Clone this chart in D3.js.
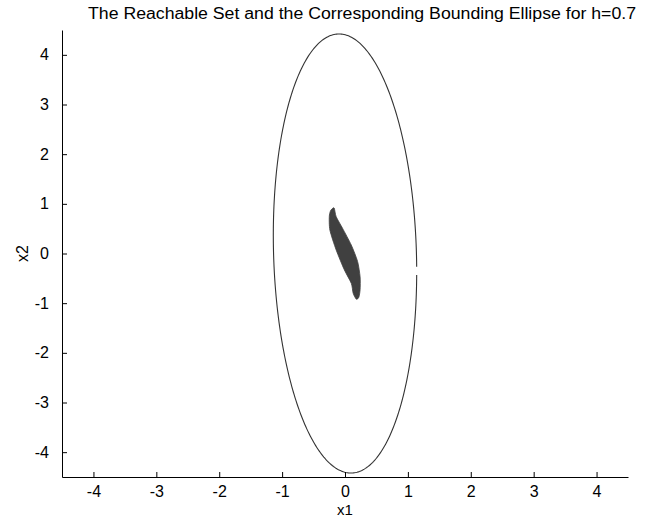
<!DOCTYPE html>
<html>
<head>
<meta charset="utf-8">
<script src="https://cdn.jsdelivr.net/npm/d3@7"></script>
<style>
  html, body { margin: 0; padding: 0; background: #fff; }
  svg { display: block; font-family: "Liberation Sans", Arial, Helvetica, sans-serif; }
</style>
</head>
<body>
<svg id="chart" width="647" height="519"></svg>
<script>
// ---- data ----
const titleText = "The Reachable Set and the Corresponding Bounding Ellipse for h=0.7";
const xLabel = "x1";
const yLabel = "x2";
const xTicks = [-4, -3, -2, -1, 0, 1, 2, 3, 4];
const yTicks = [-4, -3, -2, -1, 0, 1, 2, 3, 4];
const xDomain = [-4.5, 4.5];
const yDomain = [-4.5, 4.5];

// bounding ellipse: x = center + M * [cos t, sin t]
const ellipseCenter = [0, 0];
const ellipseMatrix = [[1.136, -0.095], [0, 4.42]];
// the drawn outline leaves a small gap on the right side (start/end of the curve)
const ellipseTStart = -0.06;
const ellipseTEnd = -0.098 + 2 * Math.PI;
const ellipseSamples = 360;

// reachable set boundary, clockwise from top tip
const reachX = [-0.195, -0.17, -0.14, -0.04, 0.10, 0.20, 0.24, 0.24, 0.22, 0.18,
                0.13, 0.10, -0.01, -0.14, -0.24, -0.25, -0.23];
const reachY = [0.91, 0.91, 0.74, 0.51, 0.17, -0.16, -0.47, -0.73, -0.88, -0.92,
                -0.80, -0.60, -0.33, 0.07, 0.47, 0.74, 0.86];

// ---- drawing ----
const svg = d3.select("#chart");
const mLeft = 62, mRight = 628, mTop = 30, mBottom = 477;

const x = d3.scaleLinear().domain(xDomain).range([mLeft, mRight]);
const y = d3.scaleLinear().domain(yDomain).range([mBottom, mTop]);

// ellipse
const tVals = d3.range(ellipseSamples + 1).map(i => ellipseTStart + (ellipseTEnd - ellipseTStart) * i / ellipseSamples);
const ellPts = tVals.map(t => {
  const c = Math.cos(t), s = Math.sin(t);
  return [ellipseCenter[0] + ellipseMatrix[0][0] * c + ellipseMatrix[0][1] * s,
          ellipseCenter[1] + ellipseMatrix[1][0] * c + ellipseMatrix[1][1] * s];
});
const line = d3.line().x(d => x(d[0])).y(d => y(d[1]));
svg.append("path")
  .attr("d", line(ellPts))
  .attr("fill", "none")
  .attr("stroke", "#333")
  .attr("stroke-width", 1.1);

// reachable set
const reachPts = reachX.map((v, i) => [v, reachY[i]]);
svg.append("path")
  .attr("d", d3.line().x(d => x(d[0])).y(d => y(d[1])).curve(d3.curveCardinalClosed.tension(0.3))(reachPts))
  .attr("fill", "#404040")
  .attr("stroke", "#404040")
  .attr("stroke-width", 0.8);

// axes
const xAxis = d3.axisBottom(x).tickValues(xTicks).tickFormat(d3.format("d")).tickSizeInner(-5).tickSizeOuter(0).tickPadding(9);
const yAxis = d3.axisLeft(y).tickValues(yTicks).tickFormat(d3.format("d")).tickSizeInner(-5).tickSizeOuter(0).tickPadding(13);

const gx = svg.append("g").attr("transform", `translate(0,${mBottom})`).call(xAxis);
const gy = svg.append("g").attr("transform", `translate(${mLeft},0)`).call(yAxis);
[gx, gy].forEach(g => {
  g.select(".domain").attr("stroke", "#000").attr("stroke-width", 1);
  g.selectAll(".tick line").attr("stroke", "#000").attr("stroke-width", 1);
  g.selectAll(".tick text").attr("fill", "#000").style("font-size", "16px")
    .style("font-family", '"Liberation Sans", Arial, sans-serif');
});
gx.selectAll(".tick text").text(d => d < 0 ? "-" + Math.abs(d) : d);
gy.selectAll(".tick text").text(d => d < 0 ? "-" + Math.abs(d) : d);

// labels
svg.append("text")
  .attr("x", x(0)).attr("y", 515)
  .attr("text-anchor", "middle")
  .style("font-size", "15px")
  .text(xLabel);
svg.append("text")
  .attr("transform", `translate(28,${y(0)}) rotate(-90)`)
  .attr("text-anchor", "middle")
  .style("font-size", "16px")
  .text(yLabel);

svg.append("text")
  .attr("x", 88).attr("y", 19)
  .attr("text-anchor", "start")
  .style("font-size", "16px")
  .attr("textLength", 548)
  .attr("lengthAdjust", "spacingAndGlyphs")
  .text(titleText);
</script>
</body>
</html>
